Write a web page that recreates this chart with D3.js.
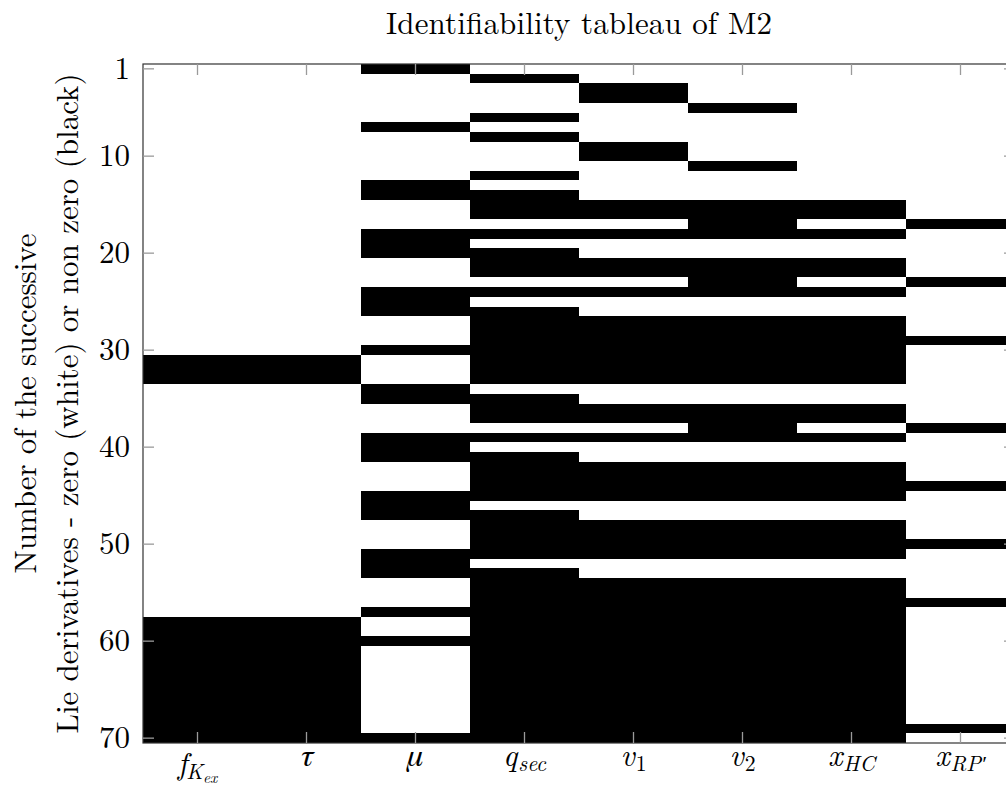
<!DOCTYPE html>
<html>
<head>
<meta charset="utf-8">
<script src="https://cdn.jsdelivr.net/npm/d3@7"></script>
<style>
  body { margin: 0; background: #fff; }
  svg { display: block; }
</style>
</head>
<body>
<svg id="chart" width="1006" height="789"></svg>
<script>
// ---------------- DATA ----------------
const title = "Identifiability tableau of M2";
const yLabelLines = ["Number of the successive", "Lie derivatives - zero (white) or non zero (black)"];
// column labels: main symbol, subscript, sub-subscript
const categories = [
  { main: "f", sub: "K", subsub: "ex" },
  { main: "\u03C4" },
  { main: "\u03BC" },
  { main: "q", sub: "sec" },
  { main: "v", sub: "1" },
  { main: "v", sub: "2" },
  { main: "x", sub: "HC" },
  { main: "x", sub: "RP\u2032" }
];
const rowCount = 70;
const yTickValues = [1, 10, 20, 30, 40, 50, 60, 70];

// rows (1..70) whose Lie derivative is non zero (black) for each column
const rowsFKex = [31,32,33,58,59,60,61,62,63,64,65,66,67,68,69,70];
const rowsTau  = [31,32,33,58,59,60,61,62,63,64,65,66,67,68,69,70];
const rowsMu   = [1,7,13,14,18,19,20,24,25,26,30,34,35,39,40,41,45,46,47,51,52,53,57,60,70];
const rowsQsec = [2,6,8,12,14,15,16,18,20,21,22,24,26,27,28,29,30,31,32,33,35,36,37,39,41,42,43,44,45,
                  47,48,49,50,51,53,54,55,56,57,58,59,60,61,62,63,64,65,66,67,68,69,70];
const rowsV1   = [3,4,9,10,15,16,18,21,22,24,27,28,29,30,31,32,33,36,37,39,42,43,44,45,48,49,50,51,
                  54,55,56,57,58,59,60,61,62,63,64,65,66,67,68,69,70];
const rowsV2   = [5,11,15,16,17,18,21,22,23,24,27,28,29,30,31,32,33,36,37,38,39,42,43,44,45,48,49,50,51,
                  54,55,56,57,58,59,60,61,62,63,64,65,66,67,68,69,70];
const rowsXHC  = [15,16,18,21,22,24,27,28,29,30,31,32,33,36,37,39,42,43,44,45,48,49,50,51,
                  54,55,56,57,58,59,60,61,62,63,64,65,66,67,68,69,70];
const rowsXRP  = [17,23,29,38,44,50,56,69];
const nonZeroRows = [rowsFKex, rowsTau, rowsMu, rowsQsec, rowsV1, rowsV2, rowsXHC, rowsXRP];

// ---------------- CHART ----------------
const FONT = "Latin Modern Roman";
const GREEK_FONT = "FreeSerif";
const FS = 31;
const svg = d3.select("#chart");
const plot = { left: 143, right: 1015, top: 64, bottom: 743 };

const x = d3.scaleBand()
  .domain(d3.range(categories.length))
  .range([plot.left, plot.right]);
const y = d3.scaleLinear()
  .domain([0.5, rowCount + 0.5])
  .range([plot.top, plot.bottom]);

// merge consecutive rows into runs for seamless drawing
const runs = [];
nonZeroRows.forEach((rows, ci) => {
  const sorted = rows.slice().sort((a, b) => a - b);
  let start = null, prev = null;
  sorted.forEach(r => {
    if (start === null) { start = r; prev = r; return; }
    if (r === prev + 1) { prev = r; return; }
    runs.push({ col: ci, start, end: prev });
    start = r; prev = r;
  });
  if (start !== null) runs.push({ col: ci, start, end: prev });
});

svg.append("g")
  .selectAll("rect")
  .data(runs)
  .join("rect")
  .attr("x", d => x(d.col))
  .attr("width", x.bandwidth())
  .attr("y", d => y(d.start - 0.5))
  .attr("height", d => y(d.end + 0.5) - y(d.start - 0.5))
  .attr("fill", "#000")
  .attr("shape-rendering", "crispEdges");

// frame
svg.append("rect")
  .attr("x", plot.left).attr("y", plot.top)
  .attr("width", plot.right - plot.left).attr("height", plot.bottom - plot.top)
  .attr("fill", "none").attr("stroke", "#333").attr("stroke-width", 1.2);

// ticks (inward, both sides)
const tickLen = 11;
const tickG = svg.append("g").attr("stroke", "#9a9a9a").attr("stroke-width", 1.3);
yTickValues.forEach(v => {
  tickG.append("line").attr("x1", plot.left).attr("x2", plot.left + tickLen).attr("y1", y(v)).attr("y2", y(v));
  tickG.append("line").attr("x1", plot.right - tickLen).attr("x2", plot.right).attr("y1", y(v)).attr("y2", y(v));
});
categories.forEach((c, i) => {
  const cx = x(i) + x.bandwidth() / 2;
  tickG.append("line").attr("x1", cx).attr("x2", cx).attr("y1", plot.bottom).attr("y2", plot.bottom - tickLen);
  tickG.append("line").attr("x1", cx).attr("x2", cx).attr("y1", plot.top).attr("y2", plot.top + tickLen);
});

// y tick labels
svg.append("g")
  .selectAll("text")
  .data(yTickValues)
  .join("text")
  .attr("x", 130)
  .attr("y", d => y(d) + 10)
  .attr("text-anchor", "end")
  .attr("font-family", FONT)
  .attr("font-size", FS)
  .attr("fill", "#000")
  .text(d => d);

// x tick labels (math italic with subscripts)
categories.forEach((c, i) => {
  const cx = x(i) + x.bandwidth() / 2;
  const isGreek = /[\u0370-\u03FF]/.test(c.main);
  const base = c.main === "f" ? 774 : 766;
  const t = svg.append("text")
    .attr("x", cx).attr("y", base)
    .attr("text-anchor", "middle")
    .attr("font-family", isGreek ? GREEK_FONT : FONT)
    .attr("font-size", isGreek ? FS + 1 : FS)
    .attr("font-weight", "normal")
    .attr("font-style", "italic")
    .attr("fill", "#000");
  t.append("tspan").text(c.main);
  let cur = 0;
  if (c.sub) {
    const isDigit = /^[0-9]+$/.test(c.sub);
    const sh = 5;
    t.append("tspan")
      .attr("dy", sh - cur)
      .attr("dx", c.main === "f" ? -1 : 1)
      .attr("font-size", FS * 0.7)
      .attr("font-style", isDigit ? "normal" : "italic")
      .text(c.sub);
    cur = sh;
  }
  if (c.subsub) {
    const sh = 9;
    t.append("tspan")
      .attr("dy", sh - cur)
      .attr("font-size", FS * 0.5)
      .text(c.subsub);
    cur = sh;
  }
});

// title
svg.append("text")
  .attr("x", (plot.left + plot.right) / 2)
  .attr("y", 34)
  .attr("text-anchor", "middle")
  .attr("font-family", FONT)
  .attr("font-size", FS)
  .attr("fill", "#000")
  .attr("textLength", 386)
  .attr("lengthAdjust", "spacing")
  .text(title);

// y axis label (two lines, rotated)
const yMid = (plot.top + plot.bottom) / 2;
const yLabelX = [36, 78];
const yLabelLen = [340, 660];
yLabelLines.forEach((line, i) => {
  svg.append("text")
    .attr("transform", `translate(${yLabelX[i]},${yMid}) rotate(-90)`)
    .attr("text-anchor", "middle")
    .attr("font-family", FONT)
    .attr("font-size", FS)
    .attr("fill", "#000")
    .attr("textLength", yLabelLen[i])
    .attr("lengthAdjust", "spacing")
    .text(line);
});
</script>
</body>
</html>
